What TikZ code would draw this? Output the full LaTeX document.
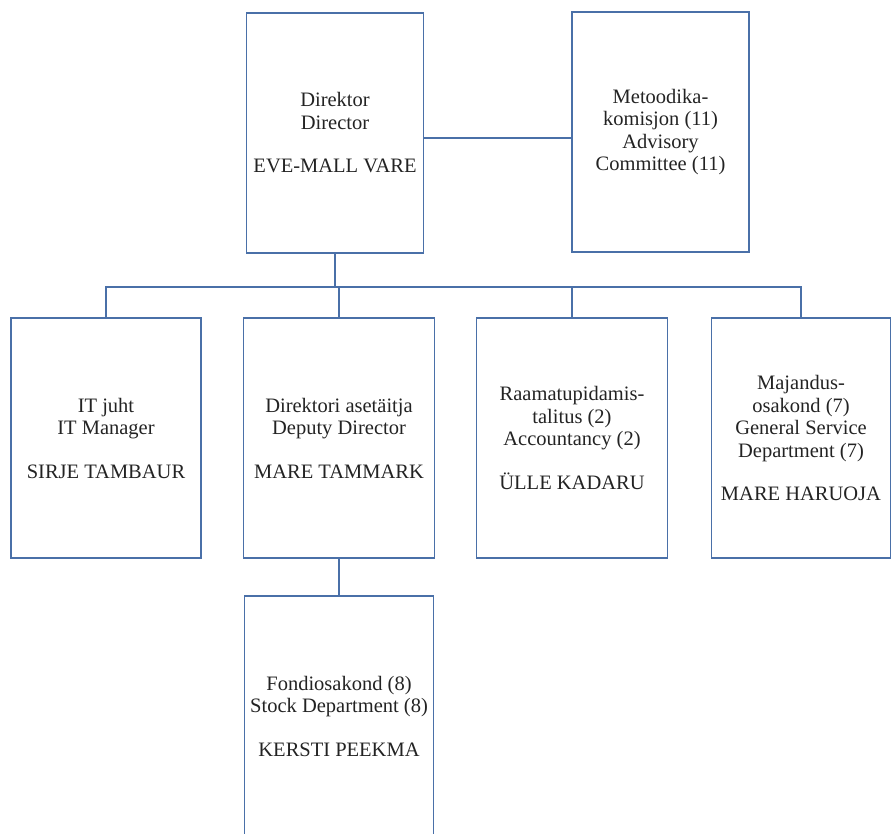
\documentclass[tikz,border=0pt]{standalone}
\usepackage{fontspec}
\setmainfont{Liberation Serif}
\usepackage{tikz}
\definecolor{boxblue}{RGB}{74,112,168}
\definecolor{inkgray}{RGB}{35,35,35}

\begin{document}
\begin{tikzpicture}[x=1pt,y=-1pt,
  unit/.style={draw=boxblue, line width=1.8pt, rectangle, inner sep=0pt,
    align=center, text=inkgray, font=\fontsize{20.5}{22.5}\selectfont},
  link/.style={draw=boxblue, line width=1.8pt}]

  % Fix the page size
  \useasboundingbox (0,0) rectangle (891,833);
  \clip (0,0) rectangle (891,833);

  % Top row
  \node[unit, minimum width=177pt, minimum height=240pt] (dir) at (335,133)
    {Direktor\\Director\\[21pt]EVE-MALL VARE};
  \node[unit, minimum width=177pt, minimum height=240pt] (adv) at (660.5,132)
    {Metoodika-\\komisjon (11)\\Advisory\\Committee (11)};

  % Second row
  \node[unit, minimum width=190pt, minimum height=240pt] (it) at (106,438)
    {IT juht\\IT Manager\\[21pt]SIRJE TAMBAUR};
  \node[unit, minimum width=191pt, minimum height=240pt] (dep) at (339,438)
    {Direktori asetäitja\\Deputy Director\\[21pt]MARE TAMMARK};
  \node[unit, minimum width=191pt, minimum height=240pt] (acc) at (572,438)
    {Raamatupidamis-\\talitus (2)\\Accountancy (2)\\[21pt]ÜLLE KADARU};
  \node[unit, minimum width=179pt, minimum height=240pt] (gen) at (801,438)
    {Majandus-\\osakond (7)\\General Service\\Department (7)\\[21pt]MARE HARUOJA};

  % Third row
  \node[unit, minimum width=189pt, minimum height=240pt] (stock) at (339,716)
    {Fondiosakond (8)\\Stock Department (8)\\[21pt]KERSTI PEEKMA};

  % Connectors
  \coordinate (bus) at (0,287);
  \draw[link] ([yshift=-5pt]dir.east) -- ([yshift=-5pt]dir.east -| adv.west);
  \draw[link] (dir.south) -- (dir.south |- bus);
  \draw[link] (it.north) -- (it.north |- bus) -- (gen.north |- bus) -- (gen.north);
  \draw[link] (dep.north) -- (dep.north |- bus);
  \draw[link] (acc.north) -- (acc.north |- bus);
  \draw[link] (dep.south) -- (stock.north);
\end{tikzpicture}
\end{document}
